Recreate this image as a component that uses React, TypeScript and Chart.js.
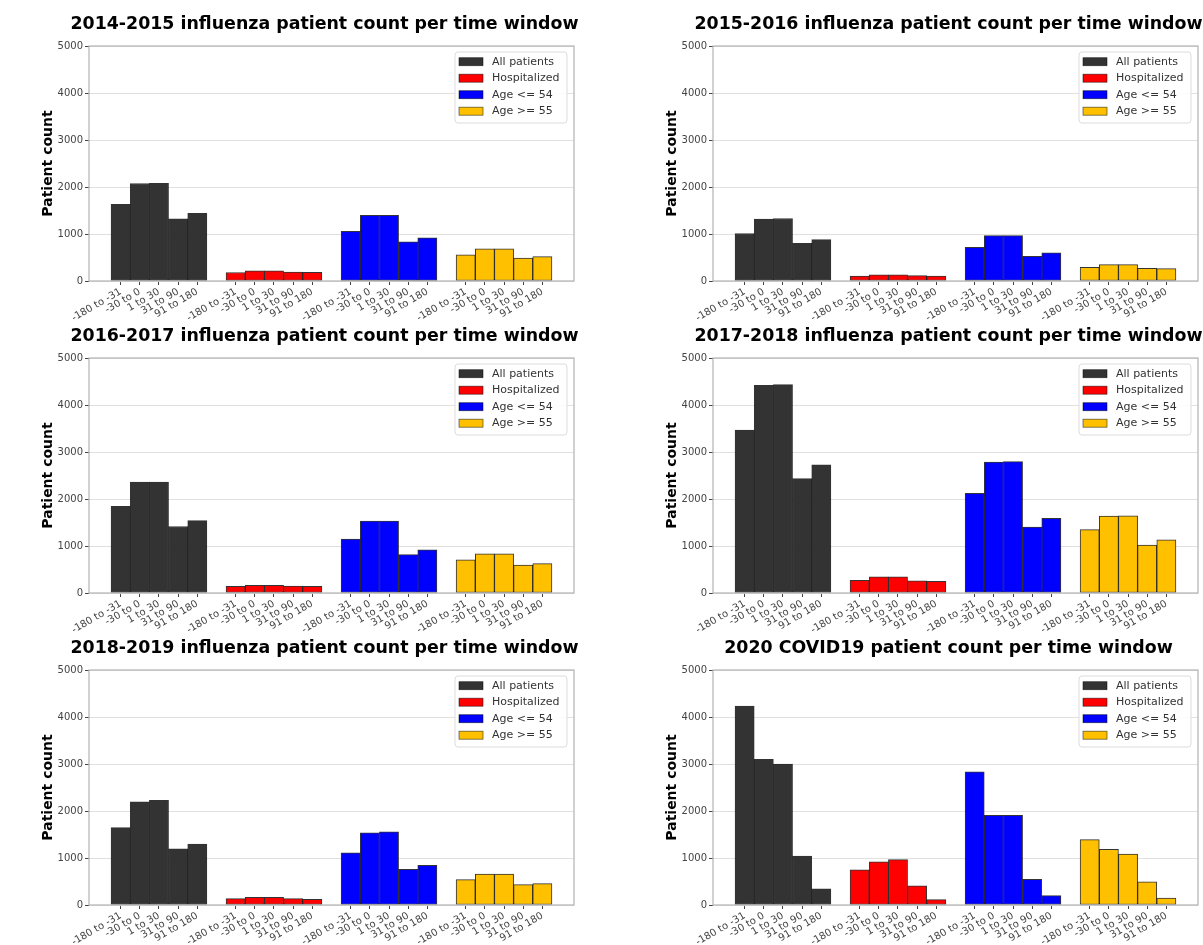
import React, { useEffect, useRef } from "react";
import { Chart, registerables } from "chart.js";

Chart.register(...registerables);

const FONT = "'DejaVu Sans', sans-serif";

// Tick labels (time windows)
const timeWindows = ["-180 to -31", "-30 to 0", "1 to 30", "31 to 90", "91 to 180"];

// Series
const seriesNames = ["All patients", "Hospitalized", "Age <= 54", "Age >= 55"];
const seriesColors = ["#333333", "#ff0000", "#0000ff", "#ffc000"];

// Panel titles
const panelTitles = [
  "2014-2015 influenza patient count per time window",
  "2015-2016 influenza patient count per time window",
  "2016-2017 influenza patient count per time window",
  "2017-2018 influenza patient count per time window",
  "2018-2019 influenza patient count per time window",
  "2020 COVID19 patient count per time window",
];

// Counts per panel: rows = series (All, Hospitalized, Age<=54, Age>=55), cols = time windows
const counts2014_2015 = [
  [1630, 2075, 2080, 1325, 1440],
  [180, 215, 215, 190, 185],
  [1055, 1395, 1395, 835, 920],
  [555, 685, 685, 490, 520],
];
const counts2015_2016 = [
  [1010, 1315, 1330, 800, 880],
  [105, 130, 130, 115, 105],
  [715, 965, 965, 525, 600],
  [290, 350, 350, 270, 265],
];
const counts2016_2017 = [
  [1845, 2360, 2360, 1415, 1540],
  [140, 165, 165, 145, 140],
  [1145, 1530, 1530, 815, 920],
  [705, 835, 835, 595, 625],
];
const counts2017_2018 = [
  [3465, 4420, 4435, 2435, 2725],
  [270, 345, 345, 260, 250],
  [2120, 2785, 2795, 1405, 1590],
  [1350, 1635, 1640, 1020, 1130],
];
const counts2018_2019 = [
  [1645, 2195, 2225, 1195, 1295],
  [135, 165, 165, 135, 120],
  [1110, 1535, 1555, 760, 845],
  [540, 660, 660, 435, 455],
];
const counts2020_covid = [
  [4230, 3100, 3000, 1040, 345],
  [750, 920, 965, 410, 115],
  [2835, 1910, 1910, 545, 200],
  [1390, 1185, 1085, 495, 145],
];

const panelCounts = [
  counts2014_2015,
  counts2015_2016,
  counts2016_2017,
  counts2017_2018,
  counts2018_2019,
  counts2020_covid,
];

const yTicks = [0, 1000, 2000, 3000, 4000, 5000];

// group spacing: one empty slot between groups
const SLOT = timeWindows.length + 1;
const xPos = (g: number, i: number) => g * SLOT + i;
const tickPositions: number[] = [];
seriesNames.forEach((_, g) => timeWindows.forEach((__, i) => tickPositions.push(xPos(g, i))));
const lastPos = xPos(seriesNames.length - 1, timeWindows.length - 1);
const span = lastPos + 1;
const xMin = -0.5 - span * 0.05;
const xMax = lastPos + 0.5 + span * 0.05;

const decorPlugin = {
  id: "panelDecor",
  afterDraw(chart: any, _args: any, opts: any) {
    const { ctx, chartArea: a } = chart;
    ctx.save();
    // axes frame
    ctx.strokeStyle = "#b3b3b3";
    ctx.lineWidth = 1.2;
    ctx.strokeRect(a.left, a.top, a.right - a.left, a.bottom - a.top);
    // title
    ctx.fillStyle = "#000";
    ctx.font = `bold 17.4px ${FONT}`;
    ctx.textAlign = "center";
    ctx.textBaseline = "alphabetic";
    ctx.fillText(opts.title, (a.left + a.right) / 2 - 7, 28.5);
    // legend
    const R = a.right;
    const T = a.top;
    const fx = R - 119;
    const fy = T + 6;
    const fw = 112;
    const fh = 71;
    ctx.beginPath();
    if (ctx.roundRect) ctx.roundRect(fx, fy, fw, fh, 3);
    else ctx.rect(fx, fy, fw, fh);
    ctx.fillStyle = "rgba(255,255,255,0.85)";
    ctx.fill();
    ctx.strokeStyle = "#dcdcdc";
    ctx.lineWidth = 1;
    ctx.stroke();
    ctx.font = `11px ${FONT}`;
    ctx.textAlign = "left";
    ctx.textBaseline = "middle";
    chart.data.datasets.forEach((ds: any, k: number) => {
      const cy = T + 15.7 + k * 16.5;
      ctx.fillStyle = ds.backgroundColor;
      ctx.fillRect(R - 115, cy - 4, 24, 8);
      ctx.strokeStyle = "rgba(0,0,0,0.6)";
      ctx.lineWidth = 0.8;
      ctx.strokeRect(R - 115, cy - 4, 24, 8);
      ctx.fillStyle = "#333";
      ctx.fillText(ds.label, R - 82, cy);
    });
    ctx.restore();
  },
};

function Panel({ title, counts, left, top }: { title: string; counts: number[][]; left: number; top: number }) {
  const ref = useRef<HTMLCanvasElement | null>(null);
  useEffect(() => {
    if (!ref.current) return;
    const datasets = seriesNames.map((name, g) => ({
      label: name,
      data: counts[g].map((v, i) => ({ x: xPos(g, i), y: v })),
      backgroundColor: seriesColors[g],
      borderColor: "rgba(0,0,0,0.8)",
      borderWidth: 1,
      borderSkipped: false,
      grouped: false,
      barPercentage: 1,
      categoryPercentage: 1,
    }));
    const chart = new Chart(ref.current, {
      type: "bar",
      data: { datasets },
      plugins: [decorPlugin],
      options: {
        animation: false,
        responsive: false,
        devicePixelRatio: 1,
        layout: { padding: { top: 46, right: 26, left: 0, bottom: 0 } },
        plugins: {
          legend: { display: false },
          title: { display: false },
          tooltip: { enabled: false },
          panelDecor: { title },
        } as any,
        scales: {
          x: {
            type: "linear",
            min: xMin,
            max: xMax,
            offset: false,
            grid: { drawOnChartArea: false, drawTicks: true, tickLength: 4, tickColor: "#444", offset: false },
            border: { display: false },
            afterBuildTicks: (s: any) => {
              s.ticks = tickPositions.map((v) => ({ value: v }));
            },
            afterFit: (s: any) => {
              s.height = 49;
            },
            ticks: {
              autoSkip: false,
              minRotation: 30,
              maxRotation: 30,
              padding: 1,
              color: "#444",
              font: { family: FONT, size: 10 },
              callback: (v: any) => timeWindows[Math.round(Number(v)) % SLOT] ?? "",
            },
          },
          y: {
            min: 0,
            max: 5000,
            afterBuildTicks: (s: any) => {
              s.ticks = yTicks.map((v) => ({ value: v }));
            },
            afterFit: (s: any) => {
              s.width = 89;
            },
            grid: { color: "#e0e0e0", tickColor: "#444", tickLength: 4, lineWidth: 1 },
            border: { display: false },
            ticks: {
              padding: 2,
              color: "#444",
              font: { family: FONT, size: 10 },
              callback: (v: any) => String(v),
            },
            title: {
              display: true,
              text: "Patient count",
              color: "#000",
              font: { family: FONT, size: 14, weight: "bold" },
              padding: { top: 40, bottom: 0 },
            },
          },
        } as any,
      },
    } as any);
    return () => chart.destroy();
  }, [title, counts]);
  return (
    <canvas
      ref={ref}
      width={600}
      height={330}
      style={{ position: "absolute", left, top, width: 600, height: 330 }}
    />
  );
}

export default function App() {
  const cols = [0, 624];
  const rows = [0, 312, 624];
  return (
    <div
      style={{
        position: "absolute",
        left: 0,
        top: 0,
        width: 1203,
        height: 945,
        overflow: "hidden",
        background: "#fff",
      }}
    >
      {panelTitles.map((t, k) => (
        <Panel key={k} title={t} counts={panelCounts[k]} left={cols[k % 2]} top={rows[Math.floor(k / 2)]} />
      ))}
    </div>
  );
}
